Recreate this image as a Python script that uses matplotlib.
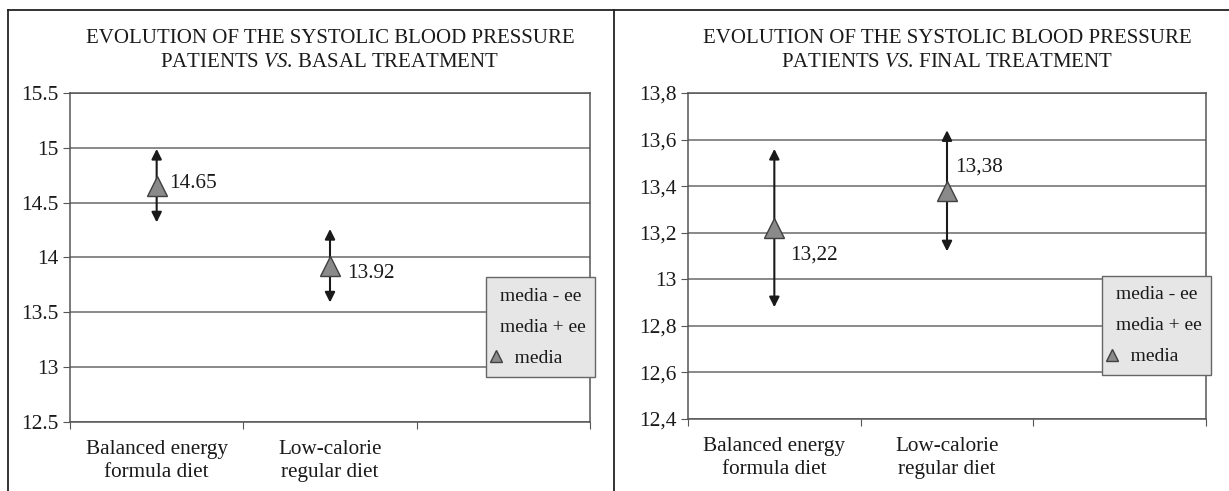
import numpy as np
import matplotlib
matplotlib.use('Agg')
import matplotlib.pyplot as plt
from matplotlib.lines import Line2D
from matplotlib.ticker import FuncFormatter

plt.rcParams['font.family'] = ['Liberation Serif', 'DejaVu Serif']
plt.rcParams['mathtext.fontset'] = 'custom'
plt.rcParams['mathtext.it'] = 'Liberation Serif:italic'
plt.rcParams['mathtext.rm'] = 'Liberation Serif'

categories = ['Balanced energy\nformula diet', 'Low-calorie\nregular diet']

# basal treatment
basal_mean = [14.65, 13.92]
basal_low = [14.32, 13.59]
basal_high = [14.99, 14.26]

# final treatment
final_mean = [13.22, 13.38]
final_low = [12.88, 13.12]
final_high = [13.56, 13.64]

fig = plt.figure(figsize=(12.29, 4.91), dpi=100)


def fmt_dot(v, pos):
    return ('%.2f' % v).rstrip('0').rstrip('.')


def fmt_comma(v, pos):
    return fmt_dot(v, pos).replace('.', ',')


def panel(rect, title, means, lows, highs, ylim, step, fmt, label_fmt, offsets):
    ax = fig.add_axes(rect)
    x = np.arange(len(means)) + 0.5
    for xi, m, lo, hi in zip(x, means, lows, highs):
        for end in (hi, lo):
            ax.annotate('', xy=(xi, end), xytext=(xi, m),
                        arrowprops=dict(arrowstyle='-|>', color='#1a1a1a', lw=1.5,
                                        mutation_scale=15, shrinkA=0, shrinkB=0))
    ax.plot(x, means, linestyle='none', marker='^', markersize=15,
            markerfacecolor='#8a8a8a', markeredgecolor='#404040', zorder=5)
    for xi, m, off in zip(x, means, offsets):
        ax.annotate(label_fmt(m), (xi, m), xytext=off, textcoords='offset points',
                    fontsize=15.3, color='#1a1a1a', va='center', ha='left')

    ax.set_xlim(0, 3)
    ax.set_ylim(*ylim)
    ticks = np.arange(ylim[0], ylim[1] + step / 2, step)
    ax.set_yticks(ticks)
    ax.yaxis.set_major_formatter(FuncFormatter(fmt))
    ax.yaxis.grid(True, color='#6a6a6a', lw=1.1)
    ax.set_axisbelow(True)
    ax.set_xticks([0, 1, 2, 3])
    ax.set_xticklabels([])
    ax.set_xticks(x, minor=True)
    ax.set_xticklabels(categories, minor=True, linespacing=1.3)
    ax.tick_params(axis='x', which='minor', length=0, pad=13, labelsize=15.3,
                   labelcolor='#1a1a1a')
    ax.tick_params(axis='x', which='major', length=5, color='#555555')
    ax.tick_params(axis='y', length=5, labelsize=15.5, color='#555555', pad=3,
                   labelcolor='#1a1a1a')
    for s in ax.spines.values():
        s.set_color('#555555')
        s.set_linewidth(1.1)
    ax.set_title(title, fontsize=15, linespacing=1.35, pad=19, color='#1a1a1a')

    handles = [Line2D([], [], linestyle='none'),
               Line2D([], [], linestyle='none'),
               Line2D([], [], linestyle='none', marker='^', markersize=8,
                      markerfacecolor='#8a8a8a', markeredgecolor='#404040')]
    leg = ax.legend(handles, ['media - ee', 'media + ee', '   media'],
                    loc='upper left', bbox_to_anchor=(0.80, 0.44),
                    fontsize=14, handlelength=0, handletextpad=0.2,
                    labelspacing=0.7, borderpad=0.5, fancybox=False,
                    framealpha=1, borderaxespad=0, labelcolor='#1a1a1a')
    leg.get_frame().set_facecolor('#e6e6e6')
    leg.get_frame().set_edgecolor('#666666')
    leg.get_frame().set_linewidth(1.0)
    return ax


panel([70 / 1229, 1 - 422 / 491, 520 / 1229, 329 / 491],
      'EVOLUTION OF THE SYSTOLIC BLOOD PRESSURE\nPATIENTS $\\mathit{VS}$. BASAL TREATMENT',
      basal_mean, basal_low, basal_high, (12.5, 15.5), 0.5,
      fmt_dot, lambda v: '%.2f' % v, [(9, 2), (12, -5)])

panel([688 / 1229, 1 - 419 / 491, 518 / 1229, 326 / 491],
      'EVOLUTION OF THE SYSTOLIC BLOOD PRESSURE\nPATIENTS $\\mathit{VS}$. FINAL TREATMENT',
      final_mean, final_low, final_high, (12.4, 13.8), 0.2,
      fmt_comma, lambda v: ('%.2f' % v).replace('.', ','), [(11.5, -19.5), (6, 17)])

# outer frame lines
fig.add_artist(Line2D([8 / 1229, 1], [1 - 10 / 491] * 2, color='#222222', lw=1.3))
fig.add_artist(Line2D([8 / 1229] * 2, [0, 1 - 10 / 491], color='#222222', lw=1.3))
fig.add_artist(Line2D([614 / 1229] * 2, [0, 1 - 10 / 491], color='#222222', lw=1.3))

fig.savefig('out.png', dpi=100)
